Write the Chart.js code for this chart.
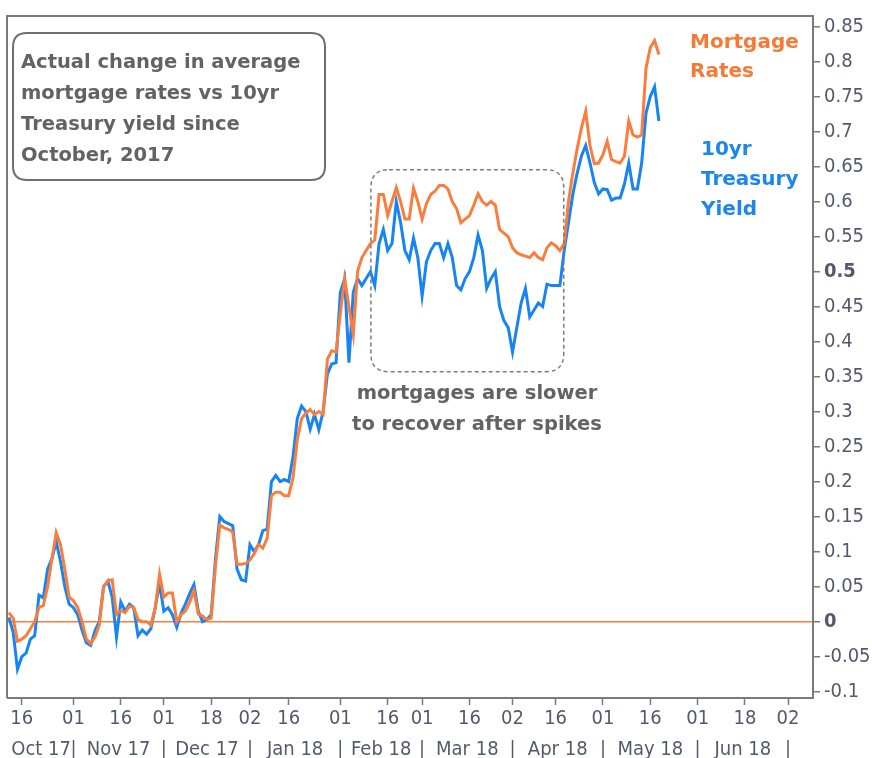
<!DOCTYPE html>
<html>
<head>
<meta charset="utf-8">
<script src="https://cdn.jsdelivr.net/npm/chart.js@4.4.1/dist/chart.umd.min.js"></script>
<style>
  html, body { margin: 0; padding: 0; background: #fff; }
</style>
</head>
<body>
<canvas id="chart" width="872" height="758"></canvas>
<script>
// change since Oct 2017, one value per trading day (index 0 = Oct 11, 2017)
const mortgage = [
  0.013, 0.005, -0.028, -0.025, -0.02, -0.01, 0.0, 0.02, 0.023, 0.05,
  0.09, 0.127, 0.11, 0.075, 0.035, 0.03, 0.02, 0.0, -0.025, -0.031,
  -0.022, -0.005, 0.05, 0.058, 0.06, 0.01, 0.016, 0.013, 0.022, 0.02,
  0.003, 0.0, 0.0, -0.005, 0.02, 0.068, 0.035, 0.041, 0.041, 0.0,
  0.01, 0.015, 0.028, 0.044, 0.011, 0.008, 0.003, 0.005, 0.08, 0.138,
  0.134, 0.132, 0.128, 0.082, 0.082, 0.083, 0.088, 0.097, 0.11, 0.105,
  0.119, 0.18, 0.185, 0.185, 0.18, 0.18, 0.205, 0.26, 0.29, 0.298,
  0.303, 0.296, 0.3, 0.296, 0.375, 0.387, 0.385, 0.44, 0.49, 0.45,
  0.41, 0.5, 0.52, 0.53, 0.54, 0.545, 0.61, 0.61, 0.58, 0.6,
  0.62, 0.6, 0.575, 0.575, 0.619, 0.6, 0.575, 0.597, 0.61, 0.615,
  0.623, 0.623, 0.618, 0.6, 0.59, 0.57, 0.575, 0.58, 0.595, 0.611,
  0.6, 0.595, 0.6, 0.595, 0.56, 0.555, 0.55, 0.534, 0.527, 0.524,
  0.522, 0.52, 0.527, 0.52, 0.517, 0.534, 0.541, 0.537, 0.53, 0.54,
  0.6, 0.64, 0.675, 0.705, 0.729, 0.68, 0.654, 0.655, 0.667, 0.686,
  0.66, 0.657, 0.655, 0.665, 0.715, 0.695, 0.692, 0.695, 0.79, 0.82,
  0.83, 0.81
];
const treasury = [
  0.006, -0.015, -0.068, -0.05, -0.045, -0.025, -0.02, 0.038, 0.034, 0.075,
  0.09, 0.114, 0.086, 0.05, 0.025, 0.02, 0.01, -0.012, -0.03, -0.034,
  -0.013, 0.0, 0.05, 0.058, 0.035, -0.022, 0.028, 0.015, 0.025, 0.02,
  -0.02, -0.012, -0.018, -0.01, 0.02, 0.055, 0.015, 0.02, 0.01, -0.008,
  0.012, 0.025, 0.04, 0.053, 0.015, 0.0, 0.003, 0.01, 0.09, 0.15,
  0.143, 0.14, 0.137, 0.075, 0.06, 0.058, 0.11, 0.1, 0.11, 0.13,
  0.132, 0.2, 0.209, 0.2, 0.203, 0.2, 0.235, 0.29, 0.308, 0.3,
  0.275, 0.296, 0.274, 0.3, 0.354, 0.368, 0.37, 0.47, 0.49, 0.37,
  0.47, 0.49, 0.48, 0.49, 0.5, 0.48, 0.54, 0.56, 0.53, 0.54,
  0.6, 0.57, 0.53, 0.517, 0.548, 0.52, 0.465, 0.514, 0.53, 0.54,
  0.54, 0.52, 0.54, 0.52, 0.48, 0.474, 0.49, 0.5, 0.52, 0.552,
  0.53, 0.476, 0.49, 0.5, 0.45, 0.43, 0.42, 0.385, 0.42, 0.455,
  0.476, 0.435, 0.445, 0.455, 0.45, 0.482, 0.48, 0.48, 0.48, 0.53,
  0.57, 0.61, 0.64, 0.665, 0.68, 0.655, 0.627, 0.611, 0.618, 0.617,
  0.602, 0.605, 0.605, 0.625, 0.655, 0.618, 0.618, 0.655, 0.726, 0.75,
  0.764, 0.715
];

// last-value markers on the right axis
const lastMortgage = 0.829;
const lastTreasury = 0.713;

// day ticks (trading-day index) and their labels
const dayTickPos = [3, 15, 26, 36, 47, 56, 65, 77, 88, 96, 107, 117, 127, 138, 149, 160, 171, 181];
const dayTickLabels = ['16', '01', '16', '01', '18', '02', '16', '01', '16', '01', '16', '02', '16', '01', '16', '01', '18', '02'];

// month row: labels centred in each month, separators at month starts
const monthCenters = [7.5, 25.5, 46, 66.5, 86.5, 106.5, 127.5, 149, 170.5];
const monthLabels = ['Oct 17', 'Nov 17', 'Dec 17', 'Jan 18', 'Feb 18', 'Mar 18', 'Apr 18', 'May 18', 'Jun 18'];
const monthStarts = [15, 36, 56, 77, 96, 117, 138, 160, 181];

const yTicks = [-0.1, -0.05, 0, 0.05, 0.1, 0.15, 0.2, 0.25, 0.3, 0.35, 0.4, 0.45, 0.5, 0.55, 0.6, 0.65, 0.7, 0.75, 0.8, 0.85];

const ORANGE = '#fa7d3d';
const BLUE = '#1684f3';
const FRAME = '#7a7a7a';
const NOTE = '#636363';
const TICK_TXT = '#535a6b';
const tickFamily = "'Liberation Sans Narrow', 'DejaVu Sans Condensed', Roboto, sans-serif";
const noteFont = "bold 19.5px 'DejaVu Sans', sans-serif";

const monthTicks = [];
monthCenters.forEach((v, i) => monthTicks.push({ value: v, label: monthLabels[i] }));
monthStarts.forEach(v => monthTicks.push({ value: v, label: '|' }));
monthTicks.sort((a, b) => a.value - b.value);

function roundRect(ctx, x, y, w, h, r) {
    ctx.beginPath();
    ctx.moveTo(x + r, y);
    ctx.lineTo(x + w - r, y);
    ctx.quadraticCurveTo(x + w, y, x + w, y + r);
    ctx.lineTo(x + w, y + h - r);
    ctx.quadraticCurveTo(x + w, y + h, x + w - r, y + h);
    ctx.lineTo(x + r, y + h);
    ctx.quadraticCurveTo(x, y + h, x, y + h - r);
    ctx.lineTo(x, y + r);
    ctx.quadraticCurveTo(x, y, x + r, y);
    ctx.closePath();
}

const framePlugin = {
    id: 'frame',
    beforeDatasetsDraw(chart) {
        const { ctx, chartArea: a } = chart;
        ctx.save();
        ctx.strokeStyle = FRAME;
        ctx.lineWidth = 2;
        ctx.beginPath();
        ctx.moveTo(a.left - 1, a.bottom);
        ctx.lineTo(a.left - 1, a.top);
        ctx.lineTo(a.right, a.top);
        ctx.stroke();
        ctx.restore();
    }
};

const notesPlugin = {
    id: 'notes',
    afterDraw(chart) {
        const { ctx } = chart;
        const xs = chart.scales.x;
        const ys = chart.scales.y;
        ctx.save();

        // title box
        ctx.strokeStyle = '#6e6e6e';
        ctx.lineWidth = 2;
        roundRect(ctx, 13, 33, 312, 147, 14);
        ctx.stroke();
        ctx.fillStyle = NOTE;
        ctx.font = noteFont;
        ctx.textAlign = 'left';
        ctx.textBaseline = 'alphabetic';
        ['Actual change in average', 'mortgage rates vs 10yr', 'Treasury yield since', 'October, 2017']
            .forEach((t, i) => ctx.fillText(t, 21, 68 + i * 31));

        // dashed highlight around the Feb-Apr stretch
        const bx0 = xs.getPixelForValue(84.1);
        const bx1 = xs.getPixelForValue(128.9);
        const by0 = ys.getPixelForValue(0.6455);
        const by1 = ys.getPixelForValue(0.357);
        ctx.setLineDash([4, 3]);
        ctx.lineWidth = 1.5;
        ctx.strokeStyle = '#7c7c7c';
        roundRect(ctx, bx0, by0, bx1 - bx0, by1 - by0, 18);
        ctx.stroke();
        ctx.setLineDash([]);

        ctx.textAlign = 'center';
        ctx.fillStyle = NOTE;
        ctx.fillText('mortgages are slower', 477, 399);
        ctx.fillText('to recover after spikes', 477, 430);

        // series labels
        ctx.textAlign = 'left';
        ctx.font = "bold 20px 'DejaVu Sans', sans-serif";
        ctx.fillStyle = '#f47a36';
        ctx.fillText('Mortgage', 690, 48);
        ctx.fillText('Rates', 690, 77);
        ctx.fillStyle = '#1c86ea';
        ctx.fillText('10yr', 701, 155);
        ctx.fillText('Treasury', 701, 185);
        ctx.fillText('Yield', 701, 215);

        ctx.restore();
    }
};

new Chart(document.getElementById('chart'), {
    type: 'line',
    data: {
        datasets: [
            {
                label: 'Mortgage Rates',
                data: mortgage.map((v, i) => ({ x: i, y: v })),
                borderColor: ORANGE,
                borderWidth: 3,
                pointRadius: 0,
                tension: 0,
                order: 1
            },
            {
                label: '10yr Treasury Yield',
                data: treasury.map((v, i) => ({ x: i, y: v })),
                borderColor: BLUE,
                borderWidth: 3,
                pointRadius: 0,
                tension: 0,
                order: 2
            },
            {
                label: 'last mortgage',
                data: [{ x: 188.6, y: lastMortgage }],
                showLine: false,
                pointStyle: 'rectRot',
                pointRadius: 6,
                pointBackgroundColor: ORANGE,
                pointBorderWidth: 0,
                clip: false,
                order: 0
            },
            {
                label: 'last treasury',
                data: [{ x: 188.6, y: lastTreasury }],
                showLine: false,
                pointStyle: 'rectRot',
                pointRadius: 6,
                pointBackgroundColor: BLUE,
                pointBorderWidth: 0,
                clip: false,
                order: 0
            }
        ]
    },
    options: {
        responsive: false,
        animation: false,
        layout: { padding: { left: 8, top: 8, right: 0, bottom: 0 } },
        plugins: {
            legend: { display: false },
            tooltip: { enabled: false }
        },
        scales: {
            x: {
                type: 'linear',
                position: 'bottom',
                weight: 0,
                min: -0.2,
                max: 186.8,
                afterBuildTicks(scale) {
                    scale.ticks = dayTickPos.map(v => ({ value: v }));
                },
                afterFit(scale) { scale.height = 32; },
                ticks: {
                    autoSkip: false,
                    maxRotation: 0,
                    padding: 2,
                    color: TICK_TXT,
                    font: { family: tickFamily, size: 20 },
                    callback: (v, i) => dayTickLabels[i]
                },
                grid: { drawOnChartArea: false, tickLength: 7, tickColor: FRAME, tickWidth: 1.5 },
                border: { color: FRAME, width: 2 }
            },
            months: {
                type: 'linear',
                position: 'bottom',
                weight: 1,
                min: -0.2,
                max: 186.8,
                afterBuildTicks(scale) {
                    scale.ticks = monthTicks.map(t => ({ value: t.value }));
                },
                afterFit(scale) { scale.height = 28; },
                ticks: {
                    autoSkip: false,
                    maxRotation: 0,
                    padding: 0,
                    color: TICK_TXT,
                    font: { family: tickFamily, size: 20 },
                    callback: (v, i) => monthTicks[i].label
                },
                grid: { display: false },
                border: { display: false }
            },
            y: {
                type: 'linear',
                position: 'right',
                min: -0.109,
                max: 0.865,
                afterBuildTicks(scale) {
                    scale.ticks = yTicks.map(v => ({ value: v }));
                },
                afterFit(scale) { scale.width = 59; },
                ticks: {
                    padding: 4,
                    color: TICK_TXT,
                    font: c => ({
                        family: tickFamily,
                        size: 20,
                        weight: (c.tick && (c.tick.value === 0 || c.tick.value === 0.5)) ? 'bold' : 'normal'
                    }),
                    callback: v => String(v)
                },
                grid: {
                    color: c => (c.tick && c.tick.value === 0) ? ORANGE : 'rgba(0,0,0,0)',
                    lineWidth: 1.5,
                    tickColor: FRAME,
                    tickLength: 7,
                    tickWidth: 1.5
                },
                border: { color: FRAME, width: 2 }
            }
        }
    },
    plugins: [framePlugin, notesPlugin]
});
</script>
</body>
</html>
